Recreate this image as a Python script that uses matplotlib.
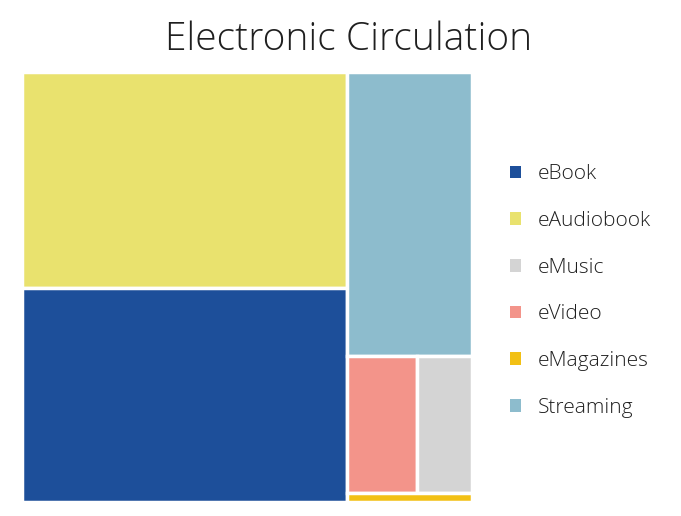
import matplotlib.pyplot as plt
from matplotlib.patches import Rectangle, Patch

plt.rcParams['font.family'] = ['Open Sans', 'DejaVu Sans']

# circulation counts
categories = ["eBook", "eAudiobook", "eMusic", "eVideo", "eMagazines", "Streaming"]
values = [35970, 36470, 3910, 4970, 560, 18330]
colors = ["#1d4f9a", "#e9e26e", "#d4d4d4", "#f3948a", "#f2c014", "#8dbccd"]

val = dict(zip(categories, values))
col = dict(zip(categories, colors))

# tile structure: columns, each a stack of bands, each band split side by side
layout = [
    [["eAudiobook"], ["eBook"]],
    [["Streaming"], ["eVideo", "eMusic"], ["eMagazines"]],
]

W, H = 4.5, 4.3
total = sum(values)

fig = plt.figure(figsize=(6.81, 5.16), dpi=100)
ax = fig.add_axes([22 / 681, 14 / 516, 450 / 681, 430 / 516])
ax.set_xlim(0, W)
ax.set_ylim(H, 0)
ax.axis("off")

x = 0
for column in layout:
    csum = sum(val[c] for band in column for c in band)
    cw = W * csum / total
    y = 0
    for band in column:
        bsum = sum(val[c] for c in band)
        bh = H * bsum / csum
        xx = x
        for c in band:
            w = cw * val[c] / bsum
            ax.add_patch(Rectangle((xx, y), w, bh, facecolor=col[c],
                                   edgecolor="white", linewidth=2.5))
            xx += w
        y += bh
    x += cw

fig.text(349 / 681, 1 - 40 / 516, "Electronic Circulation", ha="center", va="center",
         fontsize=28, color="#1f1f1f", fontweight="light")

handles = [Patch(facecolor=col[c], edgecolor="none") for c in categories]
fig.legend(handles, categories, loc="center left", bbox_to_anchor=(491 / 681, 1 - 291 / 516),
           frameon=False, handlelength=0.55, handleheight=0.55,
           handletextpad=0.8, labelspacing=1.28, labelcolor="#1f1f1f",
           prop={"weight": "light", "size": 15})

fig.savefig("out.png", dpi=100, facecolor="white")
